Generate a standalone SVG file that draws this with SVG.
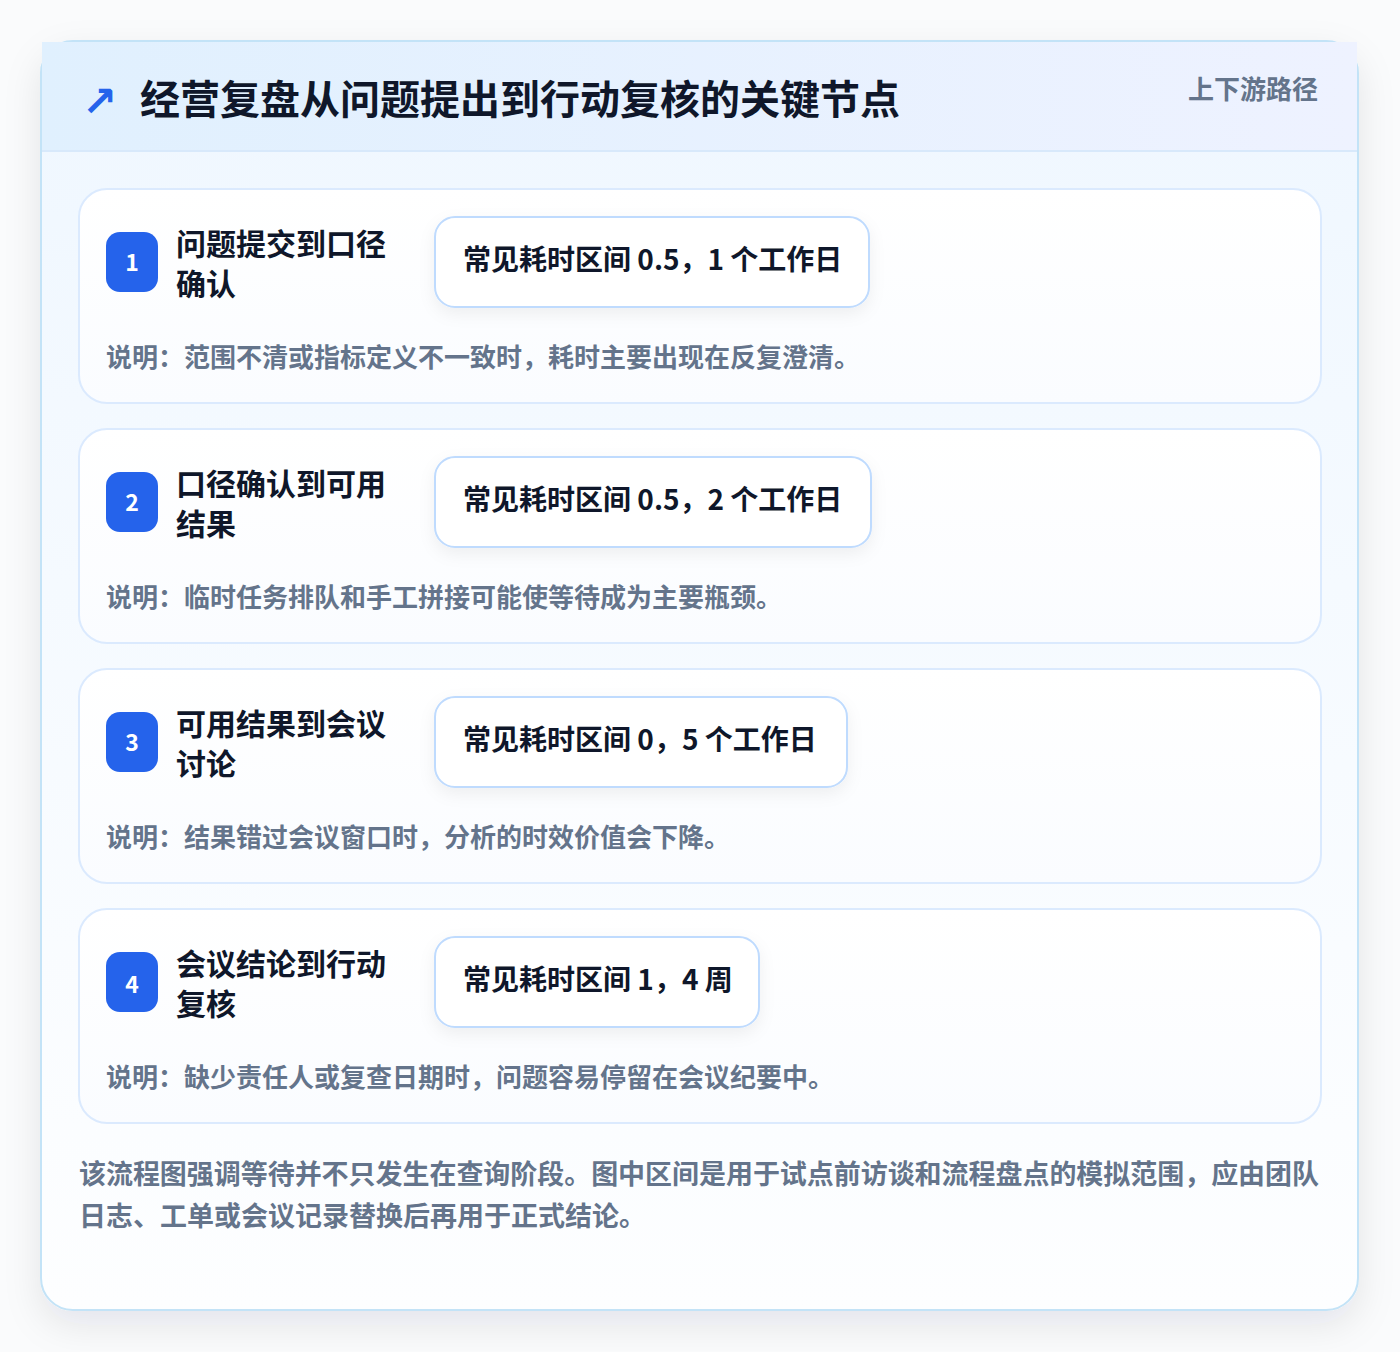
<svg xmlns="http://www.w3.org/2000/svg" width="1400" height="1352" viewBox="0 0 1400 1352">
  <defs>
    <linearGradient id="hdrGrad" x1="0" y1="0" x2="1" y2="0">
      <stop offset="0" stop-color="#e0f0fe"/>
      <stop offset="1" stop-color="#eef2ff"/>
    </linearGradient>
    <linearGradient id="bodyGrad" x1="0" y1="0" x2="0" y2="1">
      <stop offset="0" stop-color="#eff7ff"/>
      <stop offset="1" stop-color="#fdfeff"/>
    </linearGradient>
    <linearGradient id="cardGrad" x1="0" y1="0" x2="0" y2="1">
      <stop offset="0" stop-color="#ffffff"/>
      <stop offset="1" stop-color="#fafcff"/>
    </linearGradient>
    <filter id="outerShadow" x="-10%" y="-10%" width="120%" height="125%">
      <feDropShadow dx="0" dy="14" stdDeviation="18" flood-color="#0f172a" flood-opacity="0.09"/>
    </filter>
    <filter id="pillShadow" x="-10%" y="-20%" width="120%" height="160%">
      <feDropShadow dx="0" dy="6" stdDeviation="8" flood-color="#0f172a" flood-opacity="0.06"/>
    </filter>
    <style>
      text { font-family: "Noto Sans CJK SC", "Noto Sans", sans-serif; font-weight: 700; }
      .title { font-size: 40px; fill: #0f172a; }
      .tag { font-size: 26px; fill: #64748b; }
      .card { fill: url(#cardGrad); stroke: #dbeafe; stroke-width: 2; }
      .badge { fill: #2563eb; }
      .badgeNum { font-size: 23px; fill: #ffffff; text-anchor: middle; }
      .stepTitle { font-size: 30px; fill: #0f172a; }
      .pill { fill: #ffffff; stroke: #bfdbfe; stroke-width: 2; filter: url(#pillShadow); }
      .pillText { font-size: 28px; fill: #0f172a; }
      .desc { font-size: 26px; fill: #64748b; }
      .foot { font-size: 27px; fill: #64748b; }
    </style>
  </defs>

  <rect x="0" y="0" width="1400" height="1352" fill="#fafbfc"/>

  <g id="frame">
    <rect x="41" y="41" width="1317" height="1269" rx="32" fill="url(#bodyGrad)" stroke="#c3e3f7" stroke-width="2" filter="url(#outerShadow)"/>
    <rect x="42" y="42" width="1315" height="109" fill="url(#hdrGrad)"/>
    <line x1="42" y1="151" x2="1357" y2="151" stroke="#d8e9fb" stroke-width="2"/>
  </g>

  <g id="header">
    <text x="82" y="116" style="font-family: 'DejaVu Sans', sans-serif; font-size: 42px; font-weight: 700;" fill="#2563eb">↗</text>
    <text class="title" x="140" y="114">经营复盘从问题提出到行动复核的关键节点</text>
    <text class="tag" x="1188" y="99">上下游路径</text>
  </g>

  <g id="connectors"></g>

  <g id="step1">
    <rect class="card" x="79" y="189" width="1242" height="214" rx="28"/>
    <rect class="badge" x="106" y="232" width="52" height="60" rx="14"/>
    <text class="badgeNum" x="132" y="271">1</text>
    <text class="stepTitle" x="176" y="255">问题提交到口径</text>
    <text class="stepTitle" x="176" y="295">确认</text>
    <rect class="pill" x="435" y="217" width="434" height="90" rx="20"/>
    <text class="pillText" x="463" y="270">常见耗时区间 0.5，1 个工作日</text>
    <text class="desc" x="106" y="367">说明：范围不清或指标定义不一致时，耗时主要出现在反复澄清。</text>
  </g>

  <g id="step2">
    <rect class="card" x="79" y="429" width="1242" height="214" rx="28"/>
    <rect class="badge" x="106" y="472" width="52" height="60" rx="14"/>
    <text class="badgeNum" x="132" y="511">2</text>
    <text class="stepTitle" x="176" y="495">口径确认到可用</text>
    <text class="stepTitle" x="176" y="535">结果</text>
    <rect class="pill" x="435" y="457" width="436" height="90" rx="20"/>
    <text class="pillText" x="463" y="510">常见耗时区间 0.5，2 个工作日</text>
    <text class="desc" x="106" y="607">说明：临时任务排队和手工拼接可能使等待成为主要瓶颈。</text>
  </g>

  <g id="step3">
    <rect class="card" x="79" y="669" width="1242" height="214" rx="28"/>
    <rect class="badge" x="106" y="712" width="52" height="60" rx="14"/>
    <text class="badgeNum" x="132" y="751">3</text>
    <text class="stepTitle" x="176" y="735">可用结果到会议</text>
    <text class="stepTitle" x="176" y="775">讨论</text>
    <rect class="pill" x="435" y="697" width="412" height="90" rx="20"/>
    <text class="pillText" x="463" y="750">常见耗时区间 0，5 个工作日</text>
    <text class="desc" x="106" y="847">说明：结果错过会议窗口时，分析的时效价值会下降。</text>
  </g>

  <g id="step4">
    <rect class="card" x="79" y="909" width="1242" height="214" rx="28"/>
    <rect class="badge" x="106" y="952" width="52" height="60" rx="14"/>
    <text class="badgeNum" x="132" y="993">4</text>
    <text class="stepTitle" x="176" y="975">会议结论到行动</text>
    <text class="stepTitle" x="176" y="1015">复核</text>
    <rect class="pill" x="435" y="937" width="324" height="90" rx="20"/>
    <text class="pillText" x="463" y="990">常见耗时区间 1，4 周</text>
    <text class="desc" x="106" y="1087">说明：缺少责任人或复查日期时，问题容易停留在会议纪要中。</text>
  </g>

  <g id="footnote">
    <text class="foot" x="79" y="1184" textLength="1240" lengthAdjust="spacing">该流程图强调等待并不只发生在查询阶段。图中区间是用于试点前访谈和流程盘点的模拟范围，应由团队</text>
    <text class="foot" x="79" y="1226">日志、工单或会议记录替换后再用于正式结论。</text>
  </g>
</svg>
